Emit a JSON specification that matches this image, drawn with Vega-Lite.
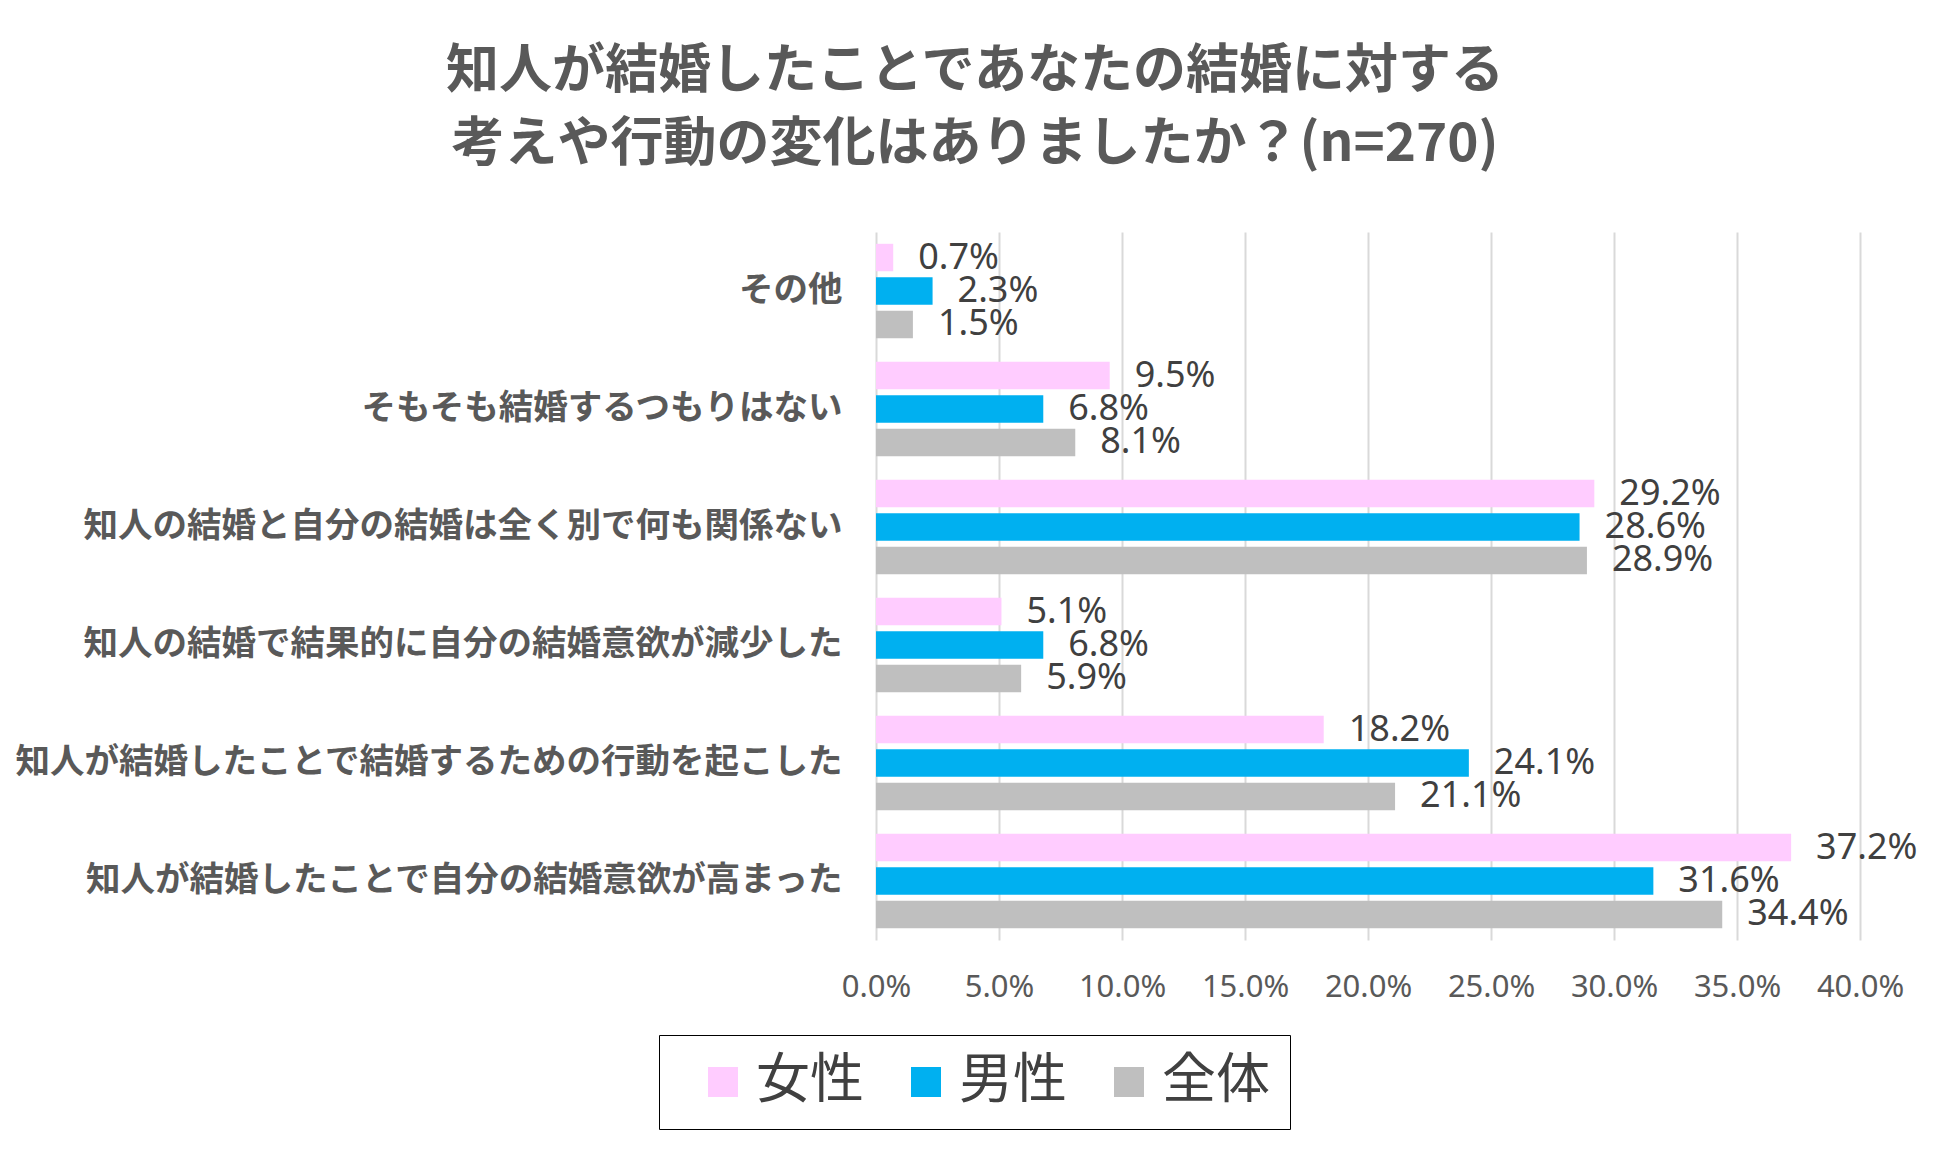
{
  "$schema": "https://vega.github.io/schema/vega-lite/v6.json",
  "autosize": {"type": "none"},
  "padding": {"left": 876, "top": 232, "right": 90, "bottom": 214},
  "width": 984,
  "height": 708,
  "background": "white",
  "title": {
    "text": ["知人が結婚したことであなたの結婚に対する", "考えや行動の変化はありましたか？(n=270)"],
    "font": "Noto Sans CJK JP",
    "fontSize": 53,
    "fontWeight": "bold",
    "color": "#595959",
    "lineHeight": 73,
    "anchor": "middle",
    "frame": "group",
    "dx": -393,
    "offset": 60
  },
  "data": {
    "values": [
      {"category": "その他", "gender": "女性", "value": 0.007},
      {"category": "その他", "gender": "男性", "value": 0.023},
      {"category": "その他", "gender": "全体", "value": 0.015},
      {"category": "そもそも結婚するつもりはない", "gender": "女性", "value": 0.095},
      {"category": "そもそも結婚するつもりはない", "gender": "男性", "value": 0.068},
      {"category": "そもそも結婚するつもりはない", "gender": "全体", "value": 0.081},
      {"category": "知人の結婚と自分の結婚は全く別で何も関係ない", "gender": "女性", "value": 0.292},
      {"category": "知人の結婚と自分の結婚は全く別で何も関係ない", "gender": "男性", "value": 0.286},
      {"category": "知人の結婚と自分の結婚は全く別で何も関係ない", "gender": "全体", "value": 0.289},
      {"category": "知人の結婚で結果的に自分の結婚意欲が減少した", "gender": "女性", "value": 0.051},
      {"category": "知人の結婚で結果的に自分の結婚意欲が減少した", "gender": "男性", "value": 0.068},
      {"category": "知人の結婚で結果的に自分の結婚意欲が減少した", "gender": "全体", "value": 0.059},
      {"category": "知人が結婚したことで結婚するための行動を起こした", "gender": "女性", "value": 0.182},
      {"category": "知人が結婚したことで結婚するための行動を起こした", "gender": "男性", "value": 0.241},
      {"category": "知人が結婚したことで結婚するための行動を起こした", "gender": "全体", "value": 0.211},
      {"category": "知人が結婚したことで自分の結婚意欲が高まった", "gender": "女性", "value": 0.372},
      {"category": "知人が結婚したことで自分の結婚意欲が高まった", "gender": "男性", "value": 0.316},
      {"category": "知人が結婚したことで自分の結婚意欲が高まった", "gender": "全体", "value": 0.344}
    ]
  },
  "encoding": {
    "y": {
      "field": "category",
      "type": "nominal",
      "sort": null,
      "scale": {"paddingInner": 0.2, "paddingOuter": 0.1},
      "axis": {
        "title": null,
        "ticks": false,
        "tickSize": 0,
        "domain": false,
        "labelFont": "Noto Sans CJK JP",
        "labelFontSize": 34.5,
        "labelFontWeight": "bold",
        "labelColor": "#595959",
        "labelPadding": 34,
        "labelLimit": 900
      }
    },
    "yOffset": {
      "field": "gender",
      "type": "nominal",
      "sort": ["女性", "男性", "全体"],
      "scale": {"paddingInner": 0.18, "paddingOuter": 0}
    },
    "x": {
      "field": "value",
      "type": "quantitative",
      "scale": {"domain": [0, 0.4], "nice": false},
      "axis": {
        "title": null,
        "format": ".1%",
        "values": [0, 0.05, 0.1, 0.15, 0.2, 0.25, 0.3, 0.35, 0.4],
        "ticks": false,
        "tickSize": 0,
        "domain": false,
        "grid": true,
        "gridColor": "#D9D9D9",
        "gridWidth": 2,
        "labelFlush": false,
        "labelOverlap": false,
        "labelFont": "Noto Sans",
        "labelFontSize": 31,
        "labelColor": "#595959",
        "labelPadding": 32
      }
    }
  },
  "layer": [
    {
      "mark": {"type": "bar"},
      "encoding": {
        "color": {
          "field": "gender",
          "type": "nominal",
          "scale": {"domain": ["女性", "男性", "全体"], "range": ["#FFCCFF", "#00B0F0", "#BFBFBF"]},
          "legend": {
            "title": null,
            "orient": "none",
            "legendX": -217,
            "legendY": 803,
            "direction": "horizontal",
            "symbolType": "square",
            "symbolSize": 900,
            "symbolStrokeWidth": 0,
            "symbolOffset": 17,
            "labelFont": "Noto Sans CJK JP",
            "labelFontSize": 54,
            "labelColor": "#404040",
            "labelOffset": 6,
            "columnPadding": 18,
            "padding": 20,
            "strokeColor": "#000000",
            "fillColor": "white"
          }
        }
      }
    },
    {
      "mark": {
        "type": "text",
        "align": "left",
        "baseline": "middle",
        "dx": 25,
        "font": "Noto Sans",
        "fontSize": 36,
        "color": "#404040"
      },
      "encoding": {
        "text": {"field": "value", "type": "quantitative", "format": ".1%"}
      }
    }
  ],
  "config": {
    "view": {"stroke": null}
  }
}
